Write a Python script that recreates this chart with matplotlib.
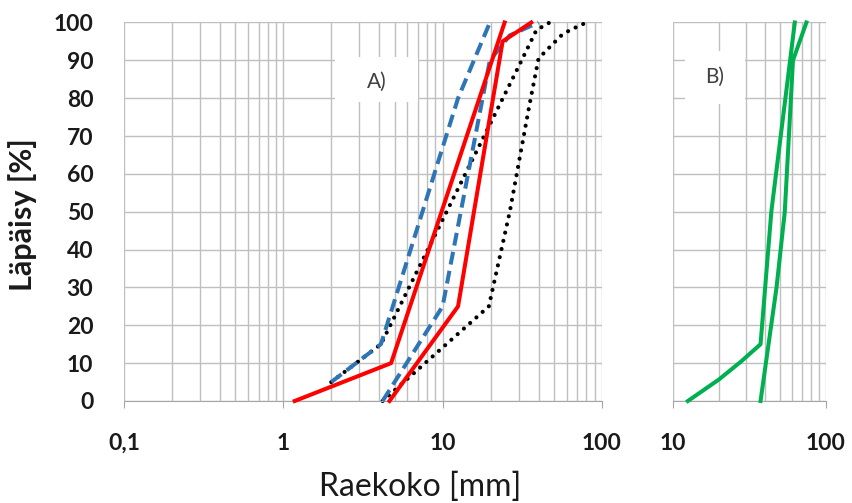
import matplotlib.pyplot as plt
from matplotlib.ticker import LogLocator, FixedLocator, FixedFormatter, NullFormatter
from matplotlib.patches import Rectangle

plt.rcParams['font.family'] = ['Lato', 'DejaVu Sans']

# A) raekokokäyrät: raekoko [mm], läpäisy [%]
red1_x = [1.18, 4.75, 24.5]
red1_y = [0, 10, 100]
red2_x = [4.64, 12.5, 23.8, 36]
red2_y = [0, 25, 95, 100]
blue1_x = [2.0, 4.1, 12.5, 19.8]
blue1_y = [5, 15, 80, 100]
blue2_x = [4.2, 10, 19.8, 26.4, 40]
blue2_y = [0, 25, 90, 96.6, 100]
dot1_x = [2.0, 4.1, 30.5, 38.8, 47]
dot1_y = [5, 15, 89, 98, 100]
dot2_x = [4.2, 19.5, 26.4, 35, 40, 47, 55.7, 63, 80]
dot2_y = [0, 25, 50, 78, 90.5, 93.5, 96.6, 98, 100]

# B)
green1_x = [12.5, 20, 28, 37.4, 44, 62.7]
green1_y = [0, 5.7, 10.5, 15, 50, 100]
green2_x = [37.4, 47.6, 53.9, 61, 74.7]
green2_y = [0, 30, 50, 90, 100]

xticks_a = [0.1, 1, 10, 100]
xlabels_a = ["0,1", "1", "10", "100"]
xticks_b = [10, 100]
xlabels_b = ["10", "100"]
yticks = list(range(0, 101, 10))

grid_col = "#bfbfbf"
tick_font = dict(family=['Lato', 'DejaVu Sans'], weight='bold', size=16.5)

fig = plt.figure(figsize=(8.52, 5.03), dpi=100)
axA = fig.add_axes([0.1455, 0.2028, 0.561, 0.7525])
axB = fig.add_axes([0.790, 0.2028, 0.1792, 0.7525])


def style(ax, xmin, xmax, ticks, labels):
    ax.set_xscale('log')
    ax.set_xlim(xmin, xmax)
    ax.set_ylim(0, 100)
    ax.xaxis.set_major_locator(FixedLocator(ticks))
    ax.xaxis.set_major_formatter(FixedFormatter(labels))
    ax.xaxis.set_minor_locator(LogLocator(base=10, subs=range(2, 10)))
    ax.xaxis.set_minor_formatter(NullFormatter())
    ax.set_yticks(yticks)
    ax.grid(True, which='both', color=grid_col, linewidth=1.0, zorder=0)
    ax.set_axisbelow(True)
    for s in ['top', 'right', 'left']:
        ax.spines[s].set_visible(False)
    ax.spines['bottom'].set_color("#a6a6a6")
    ax.tick_params(axis='x', which='major', length=5, color="#a6a6a6", pad=18)
    ax.tick_params(axis='x', which='minor', length=0)
    ax.tick_params(axis='y', length=0, pad=22)
    for t in ax.get_xticklabels() + ax.get_yticklabels():
        t.set_fontproperties(tick_font)
        t.set_color("#1a1a1a")


style(axA, 0.1, 100, xticks_a, xlabels_a)
style(axB, 10, 100, xticks_b, xlabels_b)
axB.set_yticklabels([])

# valkoiset tekstilaatikot
axA.add_patch(Rectangle((0.441, 0.79), 0.174, 0.12, transform=axA.transAxes,
                        facecolor='white', edgecolor='none', zorder=1))
axA.text(0.529, 0.844, "A)", transform=axA.transAxes, ha='center', va='center',
         fontsize=15, color="#404040", zorder=3)
axB.add_patch(Rectangle((0.077, 0.785), 0.392, 0.14, transform=axB.transAxes,
                        facecolor='white', edgecolor='none', zorder=1))
axB.text(0.273, 0.857, "B)", transform=axB.transAxes, ha='center', va='center',
         fontsize=15, color="#404040", zorder=3)

dot_kw = dict(color='black', linewidth=3.0, linestyle=(0, (0.01, 2.0)),
              dash_capstyle='round', zorder=2)
axA.plot(dot1_x, dot1_y, **dot_kw)
axA.plot(dot2_x, dot2_y, **dot_kw)

blue_kw = dict(color='#2e75b6', linewidth=2.9, linestyle=(0, (3.2, 1.6)), zorder=3)
axA.plot(blue1_x, blue1_y, **blue_kw)
axA.plot(blue2_x, blue2_y, **blue_kw)

red_kw = dict(color='#ff0000', linewidth=2.9, zorder=4)
axA.plot(red1_x, red1_y, **red_kw)
axA.plot(red2_x, red2_y, **red_kw)

green_kw = dict(color='#00b050', linewidth=2.9, zorder=4)
axB.plot(green1_x, green1_y, **green_kw)
axB.plot(green2_x, green2_y, **green_kw)

for ax in (axA, axB):
    for ln in ax.get_lines():
        ln.set_clip_on(False)

fig.text(0.027, 0.573, "Läpäisy [%]", rotation=90, ha='center', va='center',
         fontsize=22, fontweight='bold', color="#1a1a1a")
fig.text(0.493, 0.032, "Raekoko [mm]", ha='center', va='center',
         fontsize=23, color="#1a1a1a")

fig.savefig("out.png", dpi=100)
